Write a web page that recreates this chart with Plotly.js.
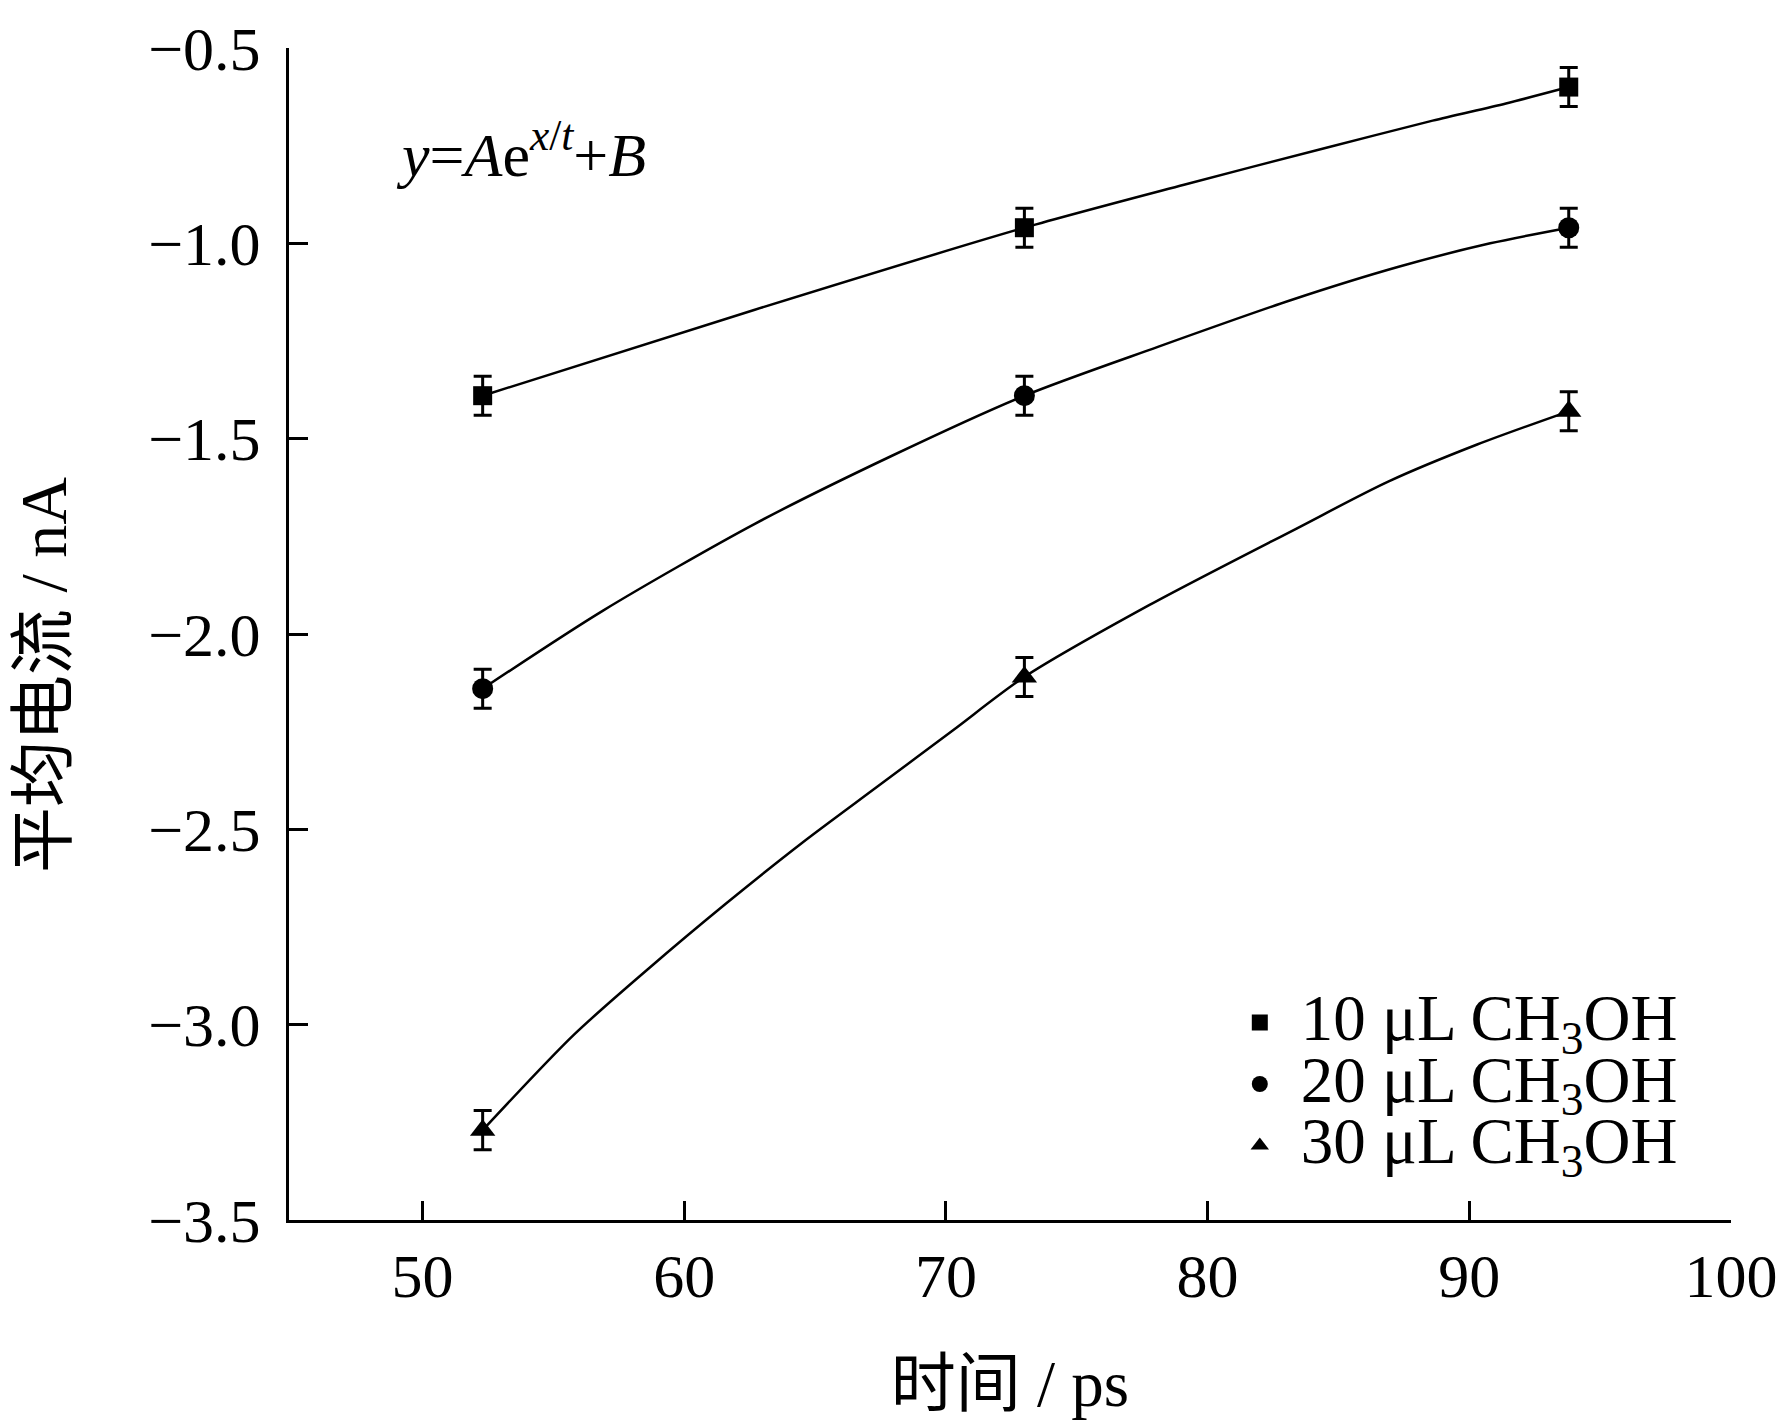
<!DOCTYPE html>
<html>
<head>
<meta charset="utf-8">
<script src="https://cdn.plot.ly/plotly-3.0.1.min.js"></script>
<style>html,body{margin:0;padding:0;background:#fff;}#chart{width:1786px;height:1428px;}</style>
</head>
<body>
<div id="chart"></div>
<script>
// ---- data ----
const times = [52.3, 73.0, 93.8];               // 时间 / ps
const current10 = [-1.39, -0.96, -0.60];        // 10 μL CH3OH
const current20 = [-2.14, -1.39, -0.96];        // 20 μL CH3OH
const current30 = [-3.27, -2.11, -1.43];        // 30 μL CH3OH
const errorBar = [0.05, 0.05, 0.05];

// fitted curves
const fit10X = [52.3, 62.7, 73.0, 79.1, 84.5, 88.6, 91.4, 93.8];
const fit10Y = [-1.39, -1.17, -0.96, -0.85, -0.756, -0.686, -0.642, -0.60];
const fit20X = [52.3, 56.9, 62.7, 67.9, 73.0, 78.1, 83.2, 87.3, 90.8, 93.8];
const fit20Y = [-2.14, -1.94, -1.718, -1.545, -1.39, -1.265, -1.145, -1.06, -1.0, -0.96];
const fit30X = [52.3, 55.8, 58.7, 61.6, 64.5, 67.4, 70.3, 73.0, 77.8, 83.4, 86.9, 90.3, 93.8];
const fit30Y = [-3.27, -3.025, -2.853, -2.69, -2.535, -2.39, -2.245, -2.11, -1.925, -1.73, -1.61, -1.515, -1.43];

const seriesNames = ['10 μL CH<sub>3</sub>OH', '20 μL CH<sub>3</sub>OH', '30 μL CH<sub>3</sub>OH'];
const xTicks = [50, 60, 70, 80, 90, 100];
const yTicks = [-3.5, -3.0, -2.5, -2.0, -1.5, -1.0, -0.5];
const xTitle = '时间 / ps';
const yTitle = '平均电流 / nA';
const equation = '<i>y</i>=<i>A</i>e<sup><i>x</i>/<i>t</i></sup>+<i>B</i>';

const FONT = '"Liberation Serif", "Times New Roman", "Noto Sans CJK SC", serif';

function fitTrace(x, y) {
  return {x: x, y: y, type: 'scatter', mode: 'lines', showlegend: false, hoverinfo: 'skip',
          line: {color: '#000', width: 2.5, shape: 'spline', smoothing: 0.8}};
}
function pointTrace(y, name, symbol, size) {
  return {x: times, y: y, type: 'scatter', mode: 'markers',
          name: '<span style="font-size:65px">' + name + '</span>',
          marker: {symbol: symbol, size: size, color: '#000'},
          error_y: {type: 'data', array: errorBar, visible: true, color: '#000', thickness: 3, width: 9}};
}

const data = [
  fitTrace(fit10X, fit10Y),
  fitTrace(fit20X, fit20Y),
  fitTrace(fit30X, fit30Y),
  pointTrace(current10, seriesNames[0], 'square', 19),
  pointTrace(current20, seriesNames[1], 'circle', 21),
  pointTrace(current30, seriesNames[2], 'triangle-up', 22)
];

const axisCommon = {
  showline: true, linecolor: '#000', linewidth: 3, mirror: false,
  ticks: 'inside', ticklen: 19, tickwidth: 3, tickcolor: '#000',
  showgrid: false, zeroline: false, automargin: false,
  tickfont: {family: FONT, size: 62, color: '#000'}
};

const layout = {
  width: 1786, height: 1428,
  margin: {l: 289, r: 55, t: 48, b: 208},
  paper_bgcolor: '#fff', plot_bgcolor: '#fff',
  font: {family: FONT, color: '#000'},
  showlegend: true,
  xaxis: Object.assign({}, axisCommon, {
    range: [44.9, 100], tickvals: xTicks,
    title: {text: xTitle, font: {family: FONT, size: 65, color: '#000'}, standoff: 52}
  }),
  yaxis: Object.assign({}, axisCommon, {
    range: [-3.5, -0.5], tickvals: yTicks, tickformat: '.1f', ticklabelstandoff: 13
  }),
  legend: {
    x: 0.6448, y: 0.199, xanchor: 'left', yanchor: 'top',
    itemwidth: 72,
    bgcolor: 'rgba(0,0,0,0)', borderwidth: 0,
    font: {family: FONT, size: 45, color: '#000'},
    itemclick: false, itemdoubleclick: false
  },
  annotations: [{
    xref: 'paper', yref: 'paper', x: 0.161, y: 0.913, xanchor: 'center', yanchor: 'middle',
    showarrow: false, text: equation,
    font: {family: FONT, size: 62, color: '#000'}
  }, {
    xref: 'paper', yref: 'paper', x: -0.1706, y: 0.465, xanchor: 'center', yanchor: 'middle',
    showarrow: false, textangle: -90, text: yTitle,
    font: {family: FONT, size: 66, color: '#000'}
  }]
};

Plotly.newPlot('chart', data, layout, {staticPlot: true, displayModeBar: false});
</script>
</body>
</html>
